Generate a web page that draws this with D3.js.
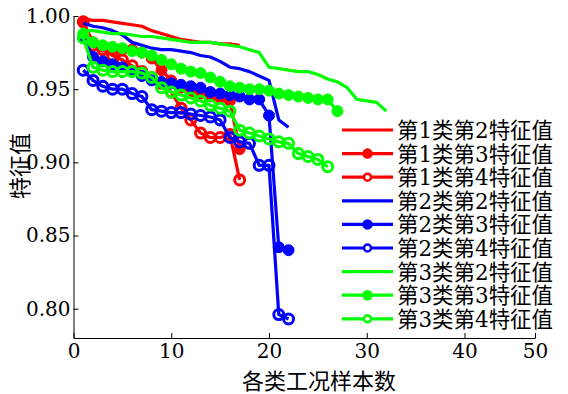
<!DOCTYPE html>
<html>
<head>
  <meta charset="UTF-8">
  <title>特征值</title>
  <script src="https://d3js.org/d3.v7.min.js"></script>
  <style>
    body { margin: 0; background: #fff; }
    .serif { font-family: "DejaVu Serif", "Liberation Serif", serif; }
  </style>
</head>
<body>
  <script>
    // eigenvalues per sample index (samples start at 1)
    const red2 = [0.998, 0.997, 0.997, 0.996, 0.995, 0.994, 0.993, 0.990, 0.988, 0.986, 0.984, 0.983, 0.982, 0.982, 0.981, 0.981, 0.980];
    const red3 = [0.996, 0.982, 0.979, 0.977, 0.977, 0.977, 0.975, 0.971, 0.963, 0.956, 0.951, 0.948, 0.947, 0.945, 0.944, 0.942, 0.909];
    const red4 = [0.996, 0.980, 0.977, 0.973, 0.970, 0.966, 0.962, 0.958, 0.954, 0.948, 0.937, 0.929, 0.920, 0.917, 0.917, 0.919, 0.888];
    const blue2 = [0.995, 0.993, 0.992, 0.990, 0.987, 0.982, 0.980, 0.978, 0.977, 0.977, 0.976, 0.975, 0.973, 0.972, 0.969, 0.965, 0.964, 0.962, 0.959, 0.956, 0.929, 0.924];
    const blue3 = [0.985, 0.972, 0.969, 0.967, 0.965, 0.962, 0.959, 0.956, 0.955, 0.954, 0.953, 0.952, 0.951, 0.948, 0.947, 0.946, 0.945, 0.943, 0.943, 0.932, 0.842, 0.840];
    const blue4 = [0.963, 0.956, 0.952, 0.950, 0.950, 0.947, 0.945, 0.936, 0.935, 0.934, 0.934, 0.933, 0.932, 0.931, 0.929, 0.917, 0.914, 0.913, 0.898, 0.898, 0.796, 0.793];
    const green2 = [0.990, 0.990, 0.989, 0.988, 0.988, 0.987, 0.986, 0.986, 0.985, 0.984, 0.983, 0.982, 0.982, 0.982, 0.981, 0.980, 0.979, 0.977, 0.975, 0.965, 0.964, 0.963, 0.962, 0.962, 0.960, 0.957, 0.955, 0.951, 0.943, 0.942, 0.941, 0.935];
    const green3 = [0.988, 0.982, 0.980, 0.979, 0.978, 0.976, 0.975, 0.973, 0.970, 0.967, 0.964, 0.962, 0.961, 0.958, 0.955, 0.952, 0.951, 0.950, 0.950, 0.949, 0.947, 0.946, 0.945, 0.944, 0.943, 0.943, 0.935];
    const green4 = [0.985, 0.965, 0.963, 0.962, 0.962, 0.962, 0.961, 0.958, 0.951, 0.948, 0.946, 0.944, 0.942, 0.939, 0.937, 0.935, 0.922, 0.920, 0.918, 0.916, 0.914, 0.913, 0.906, 0.904, 0.902, 0.897];

    const seriesNames = ["第1类第2特征值", "第1类第3特征值", "第1类第4特征值",
      "第2类第2特征值", "第2类第3特征值", "第2类第4特征值",
      "第3类第2特征值", "第3类第3特征值", "第3类第4特征值"];
    const seriesValues = [red2, red3, red4, blue2, blue3, blue4, green2, green3, green4];
    const seriesColors = ["#ff0000", "#ff0000", "#ff0000", "#0000ff", "#0000ff", "#0000ff", "#00ff00", "#00ff00", "#00ff00"];
    const seriesMarkers = ["none", "dot", "ring", "none", "dot", "ring", "none", "dot", "ring"];

    const xTicks = [0, 10, 20, 30, 40, 50];
    const yTicks = [0.80, 0.85, 0.90, 0.95, 1.00];

    const width = 568, height = 394;
    const svg = d3.select("body").append("svg")
      .attr("width", width)
      .attr("height", height);

    // the source axis is squeezed between 40 and 50
    const x = d3.scaleLinear().domain([0, 40, 50]).range([73.5, 464.5, 535]);
    const y = d3.scaleLinear().domain([0.78, 1.00]).range([338, 16]);

    // axes (ticks point inward)
    const xAxis = svg.append("g")
      .attr("transform", `translate(0,${y(0.78)})`)
      .call(d3.axisBottom(x).tickValues(xTicks).tickFormat(d3.format("d")).tickSizeInner(-5).tickSizeOuter(0).tickPadding(8));
    const yAxis = svg.append("g")
      .attr("transform", `translate(${x(0)},0)`)
      .call(d3.axisLeft(y).tickValues(yTicks).tickFormat(d3.format(".2f")).tickSizeInner(-5).tickSizeOuter(0).tickPadding(3));
    [xAxis, yAxis].forEach(a => {
      a.attr("font-family", "DejaVu Serif").attr("font-size", 20);
      a.select(".domain").attr("stroke", "#000").attr("stroke-width", 1);
      a.selectAll(".tick line").attr("stroke", "#000");
      a.selectAll(".tick text").attr("class", "serif").attr("fill", "#000");
    });
    xAxis.selectAll(".tick text").attr("dy", "0.6em");

    // series
    const line = d3.line().x((d, i) => x(i + 1)).y(d => y(d));
    seriesValues.forEach((vals, k) => {
      const g = svg.append("g");
      g.append("path")
        .datum(vals)
        .attr("d", line)
        .attr("fill", "none")
        .attr("stroke", seriesColors[k])
        .attr("stroke-width", 3.2)
        .attr("stroke-linejoin", "round");
      if (seriesMarkers[k] === "none") return;
      g.selectAll("circle")
        .data(vals)
        .join("circle")
        .attr("cx", (d, i) => x(i + 1))
        .attr("cy", d => y(d))
        .attr("r", seriesMarkers[k] === "dot" ? 5.5 : 5)
        .attr("fill", seriesMarkers[k] === "dot" ? seriesColors[k] : "none")
        .attr("stroke", seriesColors[k])
        .attr("stroke-width", seriesMarkers[k] === "dot" ? 1 : 3);
    });

    // legend
    const legend = svg.append("g")
      .attr("font-family", "DejaVu Serif, Noto Sans CJK SC")
      .attr("font-size", 22);
    legend.append("rect")
      .attr("x", 338).attr("y", 118)
      .attr("width", 220).attr("height", 214)
      .attr("fill", "#fff");
    seriesNames.forEach((name, k) => {
      const ly = 130 + k * 23.6;
      const row = legend.append("g");
      row.append("line")
        .attr("x1", 342).attr("x2", 393)
        .attr("y1", ly).attr("y2", ly)
        .attr("stroke", seriesColors[k])
        .attr("stroke-width", 3.2);
      if (seriesMarkers[k] !== "none") {
        row.append("circle")
          .attr("cx", 367.5).attr("cy", ly)
          .attr("r", seriesMarkers[k] === "dot" ? 4 : 3.5)
          .attr("fill", seriesMarkers[k] === "dot" ? seriesColors[k] : "#fff")
          .attr("stroke", seriesColors[k])
          .attr("stroke-width", 2.5);
      }
      row.append("text")
        .attr("x", 397).attr("y", ly + 8)
        .attr("textLength", 156)
        .attr("lengthAdjust", "spacingAndGlyphs")
        .text(name);
    });

    // axis titles
    svg.append("text")
      .attr("x", 319).attr("y", 389)
      .attr("text-anchor", "middle")
      .attr("font-family", "Noto Sans CJK SC")
      .attr("font-size", 22)
      .text("各类工况样本数");
    svg.append("text")
      .attr("transform", "translate(28,166) rotate(-90)")
      .attr("text-anchor", "middle")
      .attr("font-family", "Noto Sans CJK SC")
      .attr("font-size", 22)
      .text("特征值");
  </script>
</body>
</html>
